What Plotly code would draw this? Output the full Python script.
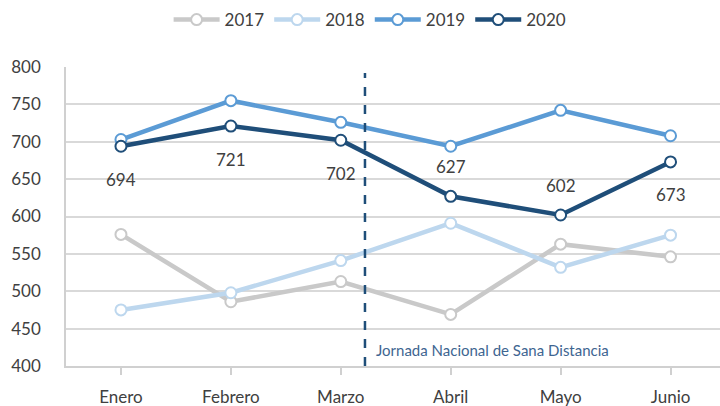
import plotly.graph_objects as go

months = ["Enero", "Febrero", "Marzo", "Abril", "Mayo", "Junio"]
y2017 = [576, 486, 513, 469, 563, 546]
y2018 = [475, 498, 541, 591, 532, 575]
y2019 = [703, 755, 726, 694, 742, 708]
y2020 = [694, 721, 702, 627, 602, 673]
label_above = [False, False, False, True, True, False]
event_label = "Jornada Nacional de Sana Distancia"

FONT = "Lato"
TXT = "#404040"

series = [
    ("2017", y2017, "#C9C9C9"),
    ("2018", y2018, "#BDD7EE"),
    ("2019", y2019, "#5B9BD5"),
    ("2020", y2020, "#1F4E79"),
]

xs = list(range(len(months)))
fig = go.Figure()
for name, ys, col in series:
    fig.add_trace(go.Scatter(
        x=xs, y=ys, name=name, mode="lines+markers",
        line=dict(color=col, width=4.5),
        marker=dict(size=11, color="white", line=dict(color=col, width=2)),
    ))

annotations = []
for i, v in enumerate(y2020):
    annotations.append(dict(
        x=i, y=v, xref="x", yref="y", text=str(v), showarrow=False,
        yshift=30 if label_above[i] else -33,
        font=dict(family=FONT, size=17, color=TXT),
    ))
annotations.append(dict(
    x=2.3, y=421, xref="x", yref="y", text=event_label, showarrow=False,
    xanchor="left", yanchor="middle",
    font=dict(family=FONT, size=15, color="#3E6591"),
))

fig.update_layout(
    width=720, height=406,
    margin=dict(l=66, r=0, t=67, b=40),
    paper_bgcolor="white", plot_bgcolor="white",
    font=dict(family=FONT, size=16, color=TXT),
    showlegend=True,
    legend=dict(orientation="h", x=0.465, xanchor="center", y=1.157, yanchor="middle",
                font=dict(family=FONT, size=17, color=TXT), itemwidth=46,
                traceorder="normal"),
    annotations=annotations,
    shapes=[dict(type="line", xref="x", yref="paper", x0=2.22, x1=2.22, y0=0, y1=0.98,
                 line=dict(color="#1F4E79", width=2.5, dash="dash"))],
    xaxis=dict(
        tickmode="array", tickvals=xs, ticktext=months,
        range=[-0.5, 5.45], showgrid=False, zeroline=False,
        showline=True, linecolor="#D0D0D0", linewidth=1.5,
        ticks="outside", ticklen=7, tickcolor="#D0D0D0", tickwidth=1.5,
        tickson="boundaries", ticklabelstandoff=8,
        tickfont=dict(family=FONT, size=17, color=TXT),
    ),
    yaxis=dict(
        range=[400, 800], tickmode="array", tickvals=[400, 450, 500, 550, 600, 650, 700, 750, 800],
        showgrid=True, gridcolor="#D9D9D9", gridwidth=1.5, zeroline=False,
        showline=True, linecolor="#D0D0D0", linewidth=1.5,
        ticks="", ticklabelstandoff=20,
        tickfont=dict(family=FONT, size=17, color=TXT),
    ),
)

fig.write_html("out.html", config={"displayModeBar": False},
               post_script="document.body.style.margin='0';document.body.style.overflow='hidden';")
